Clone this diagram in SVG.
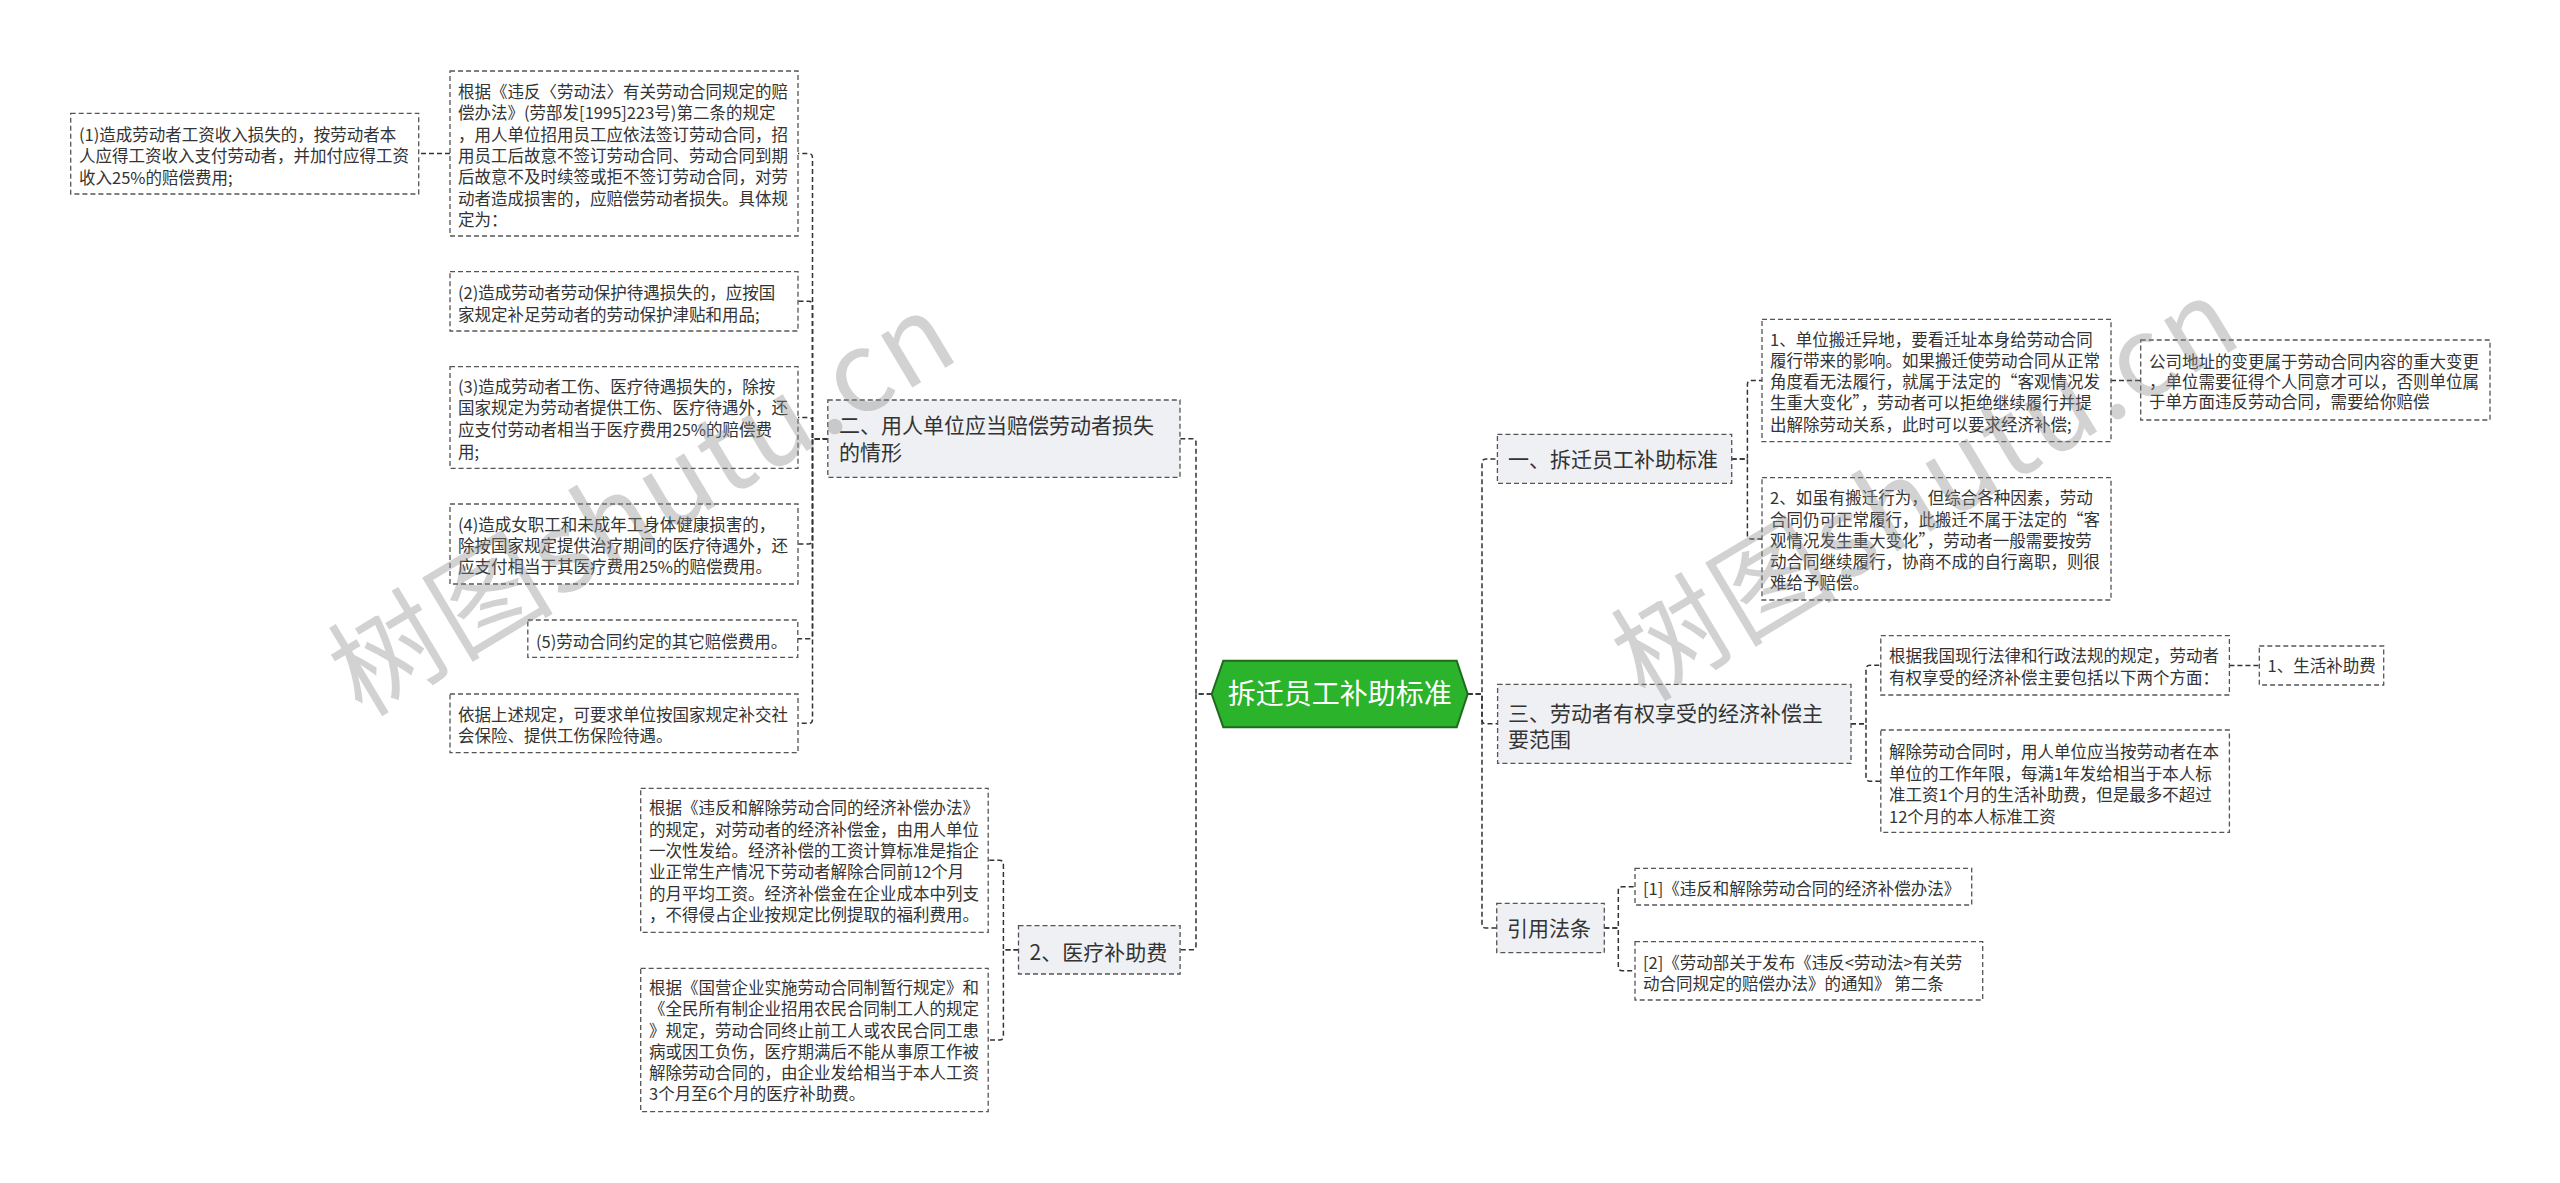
<svg xmlns="http://www.w3.org/2000/svg" width="2560" height="1183" viewBox="0 0 2560 1183">
<style>
.bg{fill:#ffffff}
.box{fill:#ffffff;stroke:#555555;stroke-width:1.3;stroke-dasharray:5 3}
.topic{fill:#eef0f3;stroke:#555555;stroke-width:1.3;stroke-dasharray:5 3}
.root{fill:#2bb32b;stroke:#1f6a1f;stroke-width:2}
.t{font-family:"Noto Sans CJK SC","Noto Sans",sans-serif;font-size:16.5px;fill:#333333}
.tl{font-family:"Noto Sans CJK SC","Noto Sans",sans-serif;font-size:21px;fill:#333333}
.tr{font-family:"Noto Sans CJK SC","Noto Sans",sans-serif;font-size:28px;fill:#ffffff}
.conn path{fill:none;stroke:#333333;stroke-width:1.5;stroke-dasharray:5 3}
.wm{font-family:"Noto Sans CJK SC","Liberation Sans",sans-serif;font-size:112px;fill:#888888;fill-opacity:0.38}
</style>
<rect class="bg" x="0" y="0" width="2560" height="1183"/>

<g id="connectors" class="conn">
<path d="M1467.7,694 H1482 V463 Q1482,459 1486,459 H1497.4"/>
<path d="M1467.7,694 H1482 V719.8 Q1482,723.8 1486,723.8 H1497.6"/>
<path d="M1467.7,694 H1482 V924 Q1482,928 1486,928 H1496.7"/>
<path d="M1731.7,459 H1747.4 V384.5 Q1747.4,380.5 1751.4,380.5 H1762"/>
<path d="M1731.7,459 H1747.4 V535 Q1747.4,539 1751.4,539 H1762"/>
<path d="M2111,380.5 H2140.7"/>
<path d="M1851,723.8 H1866 V669.3 Q1866,665.3 1870,665.3 H1880.8"/>
<path d="M1851,723.8 H1866 V777.2 Q1866,781.2 1870,781.2 H1880.8"/>
<path d="M2229.4,665.5 H2259.3"/>
<path d="M1604.3,928 H1618.3 V890.7 Q1618.3,886.7 1622.3,886.7 H1635"/>
<path d="M1604.3,928 H1618.3 V966.8 Q1618.3,970.8 1622.3,970.8 H1635"/>
<path d="M1211.7,694 H1196 V442.7 Q1196,438.7 1192,438.7 H1180"/>
<path d="M1211.7,694 H1196 V945.8 Q1196,949.8 1192,949.8 H1180"/>
<path d="M827.8,438.7 H812.5 V157.5 Q812.5,153.5 808.5,153.5 H798"/>
<path d="M827.8,438.7 H812.5 V305.3 Q812.5,301.3 808.5,301.3 H798"/>
<path d="M827.8,438.7 H812.5 V421.5 Q812.5,417.5 808.5,417.5 H798"/>
<path d="M827.8,438.7 H812.5 V540 Q812.5,544 808.5,544 H798"/>
<path d="M827.8,438.7 H812.5 V634.7 Q812.5,638.7 808.5,638.7 H798"/>
<path d="M827.8,438.7 H812.5 V719.3 Q812.5,723.3 808.5,723.3 H798"/>
<path d="M450,153.5 H418.7"/>
<path d="M1018.5,949.8 H1003.4 V864.3 Q1003.4,860.3 999.4,860.3 H988.2"/>
<path d="M1018.5,949.8 H1003.4 V1036 Q1003.4,1040 999.4,1040 H988.2"/>
</g>

<g id="root">
<polygon class="root" points="1211.7,694 1223.3,660.7 1456.7,660.7 1467.7,694 1456.7,727.3 1223.3,727.3"/>
<text class="tr" x="1339.7" y="704" text-anchor="middle">拆迁员工补助标准</text>
</g>

<g id="n-yi">
<rect class="topic" x="1497.4" y="434.3" width="234.3" height="49"/>
<text class="tl" x="1508" y="467">一、拆迁员工补助标准</text>
</g>
<g id="n-yi-1">
<rect class="box" x="1762" y="319.3" width="349" height="122.4"/>
<text class="t" x="1770" y="345.5">1、单位搬迁异地，要看迁址本身给劳动合同</text>
<text class="t" x="1770" y="366.8">履行带来的影响。如果搬迁使劳动合同从正常</text>
<text class="t" x="1770" y="388.1">角度看无法履行，就属于法定的“客观情况发</text>
<text class="t" x="1770" y="409.4">生重大变化”，劳动者可以拒绝继续履行并提</text>
<text class="t" x="1770" y="430.7">出解除劳动关系，此时可以要求经济补偿;</text>
</g>
<g id="n-yi-1-a">
<rect class="box" x="2140.7" y="340" width="349.3" height="80"/>
<text class="t" x="2149" y="367.7">公司地址的变更属于劳动合同内容的重大变更</text>
<text class="t" x="2149" y="388">，单位需要征得个人同意才可以，否则单位属</text>
<text class="t" x="2149" y="408">于单方面违反劳动合同，需要给你赔偿</text>
</g>
<g id="n-yi-2">
<rect class="box" x="1762" y="477.7" width="349" height="122.3"/>
<text class="t" x="1770" y="504.3">2、如虽有搬迁行为，但综合各种因素，劳动</text>
<text class="t" x="1770" y="525.5">合同仍可正常履行，此搬迁不属于法定的“客</text>
<text class="t" x="1770" y="546.7">观情况发生重大变化”，劳动者一般需要按劳</text>
<text class="t" x="1770" y="567.9">动合同继续履行，协商不成的自行离职，则很</text>
<text class="t" x="1770" y="589.1">难给予赔偿。</text>
</g>

<g id="n-san">
<rect class="topic" x="1497.6" y="684.3" width="353.4" height="79"/>
<text class="tl" x="1508" y="720.7">三、劳动者有权享受的经济补偿主</text>
<text class="tl" x="1508" y="747.3">要范围</text>
</g>
<g id="n-san-1">
<rect class="box" x="1880.8" y="635.7" width="348.6" height="59.3"/>
<text class="t" x="1889" y="662">根据我国现行法律和行政法规的规定，劳动者</text>
<text class="t" x="1889" y="684">有权享受的经济补偿主要包括以下两个方面：</text>
</g>
<g id="n-san-1-a">
<rect class="box" x="2259.3" y="646" width="124.4" height="39"/>
<text class="t" x="2267.5" y="671.5">1、生活补助费</text>
</g>
<g id="n-san-2">
<rect class="box" x="1880.8" y="730" width="348.6" height="102.3"/>
<text class="t" x="1889" y="758">解除劳动合同时，用人单位应当按劳动者在本</text>
<text class="t" x="1889" y="779.5">单位的工作年限，每满1年发给相当于本人标</text>
<text class="t" x="1889" y="801">准工资1个月的生活补助费，但是最多不超过</text>
<text class="t" x="1889" y="822.5">12个月的本人标准工资</text>
</g>

<g id="n-yinyong">
<rect class="topic" x="1496.7" y="903.3" width="107.6" height="49.4"/>
<text class="tl" x="1507" y="936">引用法条</text>
</g>
<g id="n-yinyong-1">
<rect class="box" x="1635" y="868.3" width="336.7" height="36.7"/>
<text class="t" x="1643" y="895.3">[1]《违反和解除劳动合同的经济补偿办法》</text>
</g>
<g id="n-yinyong-2">
<rect class="box" x="1635" y="941.7" width="347.7" height="58.3"/>
<text class="t" x="1643" y="969.3">[2]《劳动部关于发布《违反&lt;劳动法&gt;有关劳</text>
<text class="t" x="1643" y="990">动合同规定的赔偿办法》的通知》 第二条</text>
</g>

<g id="n-er">
<rect class="topic" x="827.8" y="400" width="352.2" height="77.3"/>
<text class="tl" x="839" y="433">二、用人单位应当赔偿劳动者损失</text>
<text class="tl" x="839" y="460">的情形</text>
</g>
<g id="n-er-0">
<rect class="box" x="450" y="71" width="348" height="165"/>
<text class="t" x="458" y="97.7">根据《违反〈劳动法〉有关劳动合同规定的赔</text>
<text class="t" x="458" y="119.1">偿办法》(劳部发[1995]223号)第二条的规定</text>
<text class="t" x="458" y="140.5">，用人单位招用员工应依法签订劳动合同，招</text>
<text class="t" x="458" y="161.9">用员工后故意不签订劳动合同、劳动合同到期</text>
<text class="t" x="458" y="183.3">后故意不及时续签或拒不签订劳动合同，对劳</text>
<text class="t" x="458" y="204.7">动者造成损害的，应赔偿劳动者损失。具体规</text>
<text class="t" x="458" y="226.1">定为：</text>
</g>
<g id="n-er-0-a">
<rect class="box" x="70.7" y="113.3" width="348" height="80.7"/>
<text class="t" x="79" y="140.5">(1)造成劳动者工资收入损失的，按劳动者本</text>
<text class="t" x="79" y="162">人应得工资收入支付劳动者，并加付应得工资</text>
<text class="t" x="79" y="183.5">收入25%的赔偿费用;</text>
</g>
<g id="n-er-2">
<rect class="box" x="450" y="271.7" width="348" height="59.3"/>
<text class="t" x="458" y="299">(2)造成劳动者劳动保护待遇损失的，应按国</text>
<text class="t" x="458" y="321">家规定补足劳动者的劳动保护津贴和用品;</text>
</g>
<g id="n-er-3">
<rect class="box" x="450" y="366.7" width="348" height="101.6"/>
<text class="t" x="458" y="392.7">(3)造成劳动者工伤、医疗待遇损失的，除按</text>
<text class="t" x="458" y="414.3">国家规定为劳动者提供工伤、医疗待遇外，还</text>
<text class="t" x="458" y="436">应支付劳动者相当于医疗费用25%的赔偿费</text>
<text class="t" x="458" y="457.7">用;</text>
</g>
<g id="n-er-4">
<rect class="box" x="450" y="504" width="348" height="80"/>
<text class="t" x="458" y="531">(4)造成女职工和未成年工身体健康损害的，</text>
<text class="t" x="458" y="552">除按国家规定提供治疗期间的医疗待遇外，还</text>
<text class="t" x="458" y="573">应支付相当于其医疗费用25%的赔偿费用。</text>
</g>
<g id="n-er-5">
<rect class="box" x="527.8" y="620" width="270" height="37.3"/>
<text class="t" x="536" y="647.5">(5)劳动合同约定的其它赔偿费用。</text>
</g>
<g id="n-er-6">
<rect class="box" x="450" y="694" width="348" height="58.7"/>
<text class="t" x="458" y="721">依据上述规定，可要求单位按国家规定补交社</text>
<text class="t" x="458" y="742">会保险、提供工伤保险待遇。</text>
</g>

<g id="n-yiliao">
<rect class="topic" x="1018.5" y="925.7" width="161.6" height="48.3"/>
<text class="tl" x="1029.5" y="959.5">2、医疗补助费</text>
</g>
<g id="n-yiliao-1">
<rect class="box" x="640.7" y="788.3" width="347.5" height="144"/>
<text class="t" x="649" y="814.3">根据《违反和解除劳动合同的经济补偿办法》</text>
<text class="t" x="649" y="835.6">的规定，对劳动者的经济补偿金，由用人单位</text>
<text class="t" x="649" y="856.9">一次性发给。经济补偿的工资计算标准是指企</text>
<text class="t" x="649" y="878.2">业正常生产情况下劳动者解除合同前12个月</text>
<text class="t" x="649" y="899.5">的月平均工资。经济补偿金在企业成本中列支</text>
<text class="t" x="649" y="920.8">，不得侵占企业按规定比例提取的福利费用。</text>
</g>
<g id="n-yiliao-2">
<rect class="box" x="640.7" y="968.3" width="347.5" height="143.4"/>
<text class="t" x="649" y="994.3">根据《国营企业实施劳动合同制暂行规定》和</text>
<text class="t" x="649" y="1015.4">《全民所有制企业招用农民合同制工人的规定</text>
<text class="t" x="649" y="1036.5">》规定，劳动合同终止前工人或农民合同工患</text>
<text class="t" x="649" y="1057.6">病或因工负伤，医疗期满后不能从事原工作被</text>
<text class="t" x="649" y="1078.7">解除劳动合同的，由企业发给相当于本人工资</text>
<text class="t" x="649" y="1099.8">3个月至6个月的医疗补助费。</text>
</g>

<g id="watermark">
<text class="wm" transform="translate(362,718) rotate(-31)" textLength="700" lengthAdjust="spacing">树图shutu.cn</text>
<text class="wm" transform="translate(1645,703) rotate(-31)" textLength="700" lengthAdjust="spacing">树图shutu.cn</text>
</g>
</svg>
